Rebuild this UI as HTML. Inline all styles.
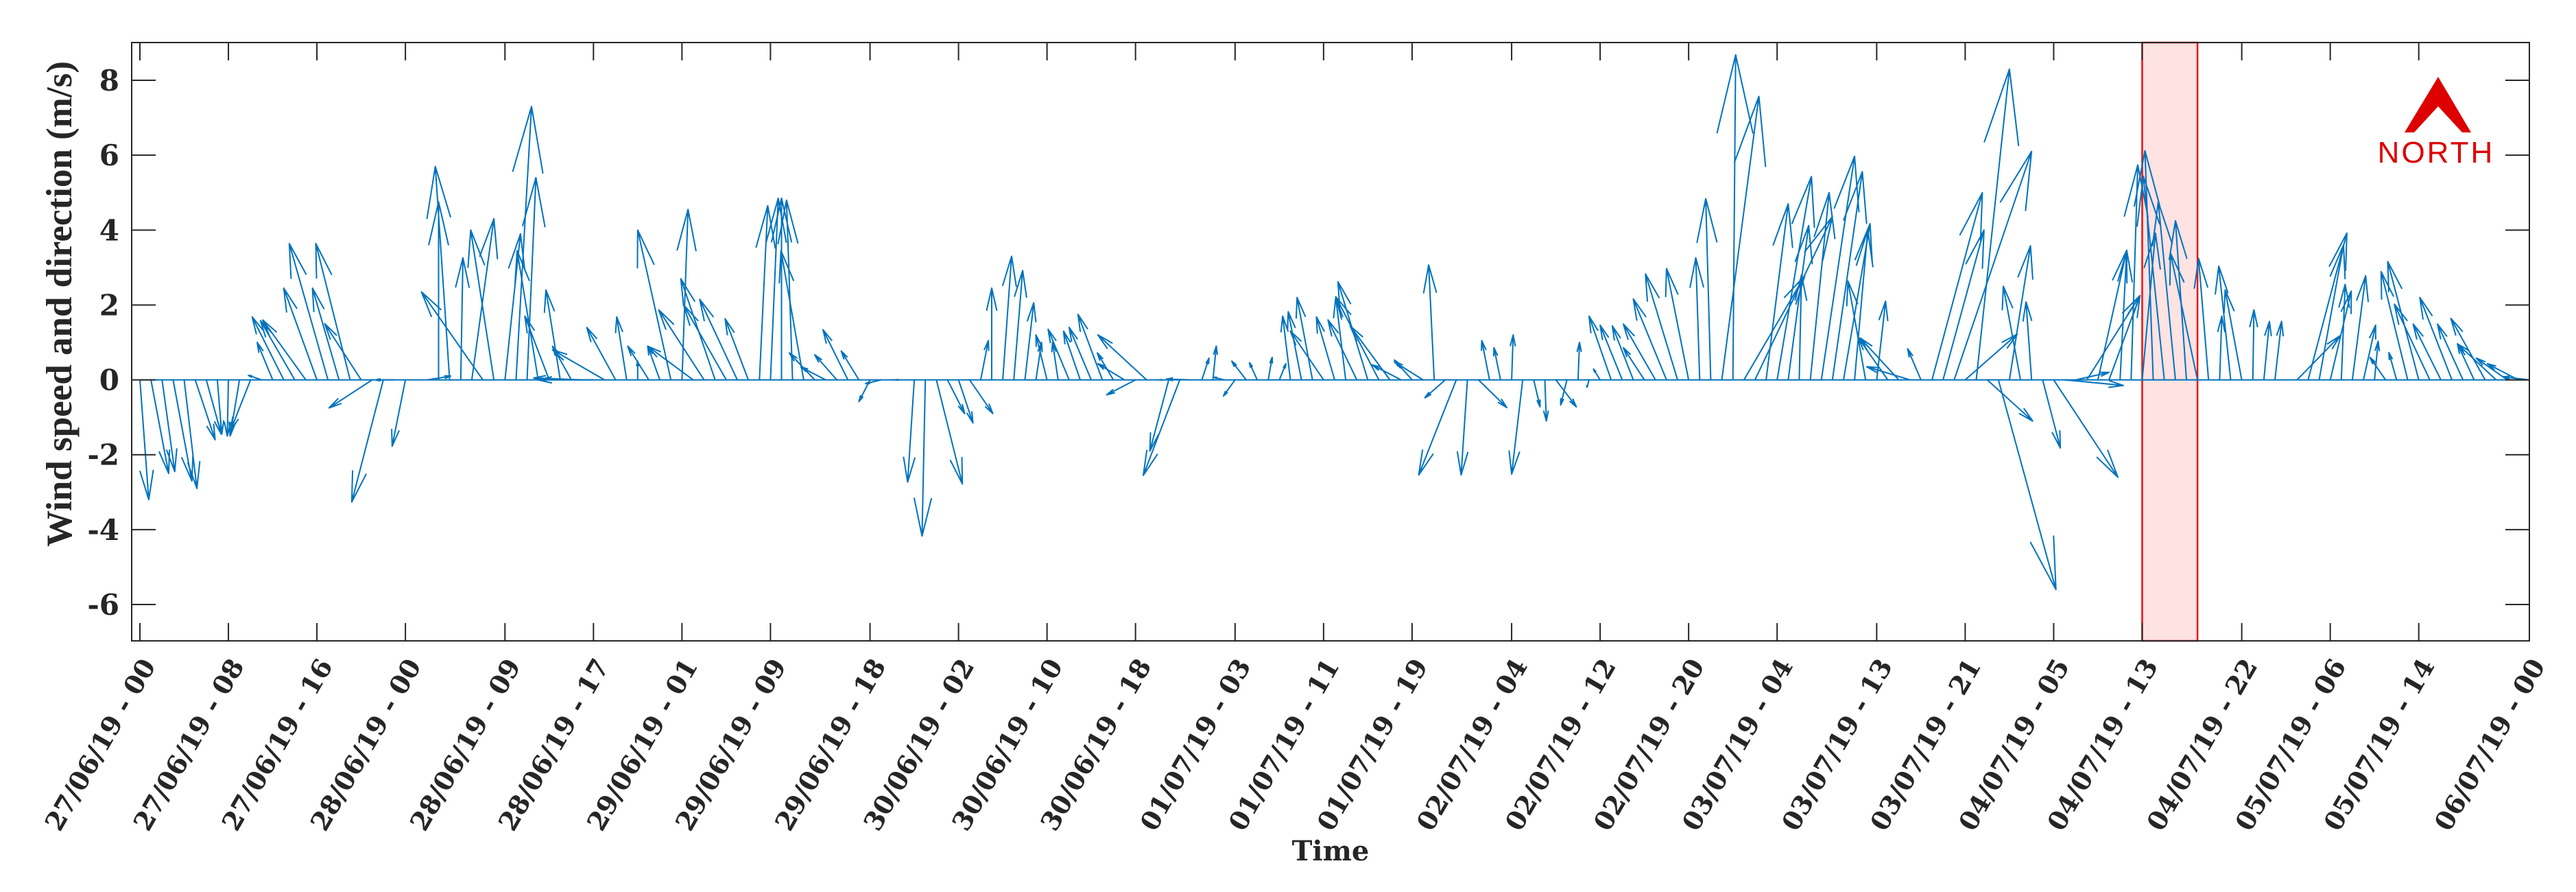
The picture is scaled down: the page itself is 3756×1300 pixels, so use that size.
<!DOCTYPE html>
<html><head><meta charset="utf-8"><style>
html,body{margin:0;padding:0;background:#fff;}
svg{display:block;}
</style></head><body>
<svg id="chart" width="3756" height="1300" viewBox="0 0 3756 1300" xmlns="http://www.w3.org/2000/svg">
<rect x="0" y="0" width="3756" height="1300" fill="#fff"/>
<g id="plot"></g>
</svg>
<script>
const tickHours = [0,8,16,24,33,41,49,57,66,74,82,90,99,107,115,124,132,140,148,157,165,173,181,190,198,206,216];
const tickLabels = ["27/06/19 - 00","27/06/19 - 08","27/06/19 - 16","28/06/19 - 00","28/06/19 - 09","28/06/19 - 17","29/06/19 - 01","29/06/19 - 09","29/06/19 - 18","30/06/19 - 02","30/06/19 - 10","30/06/19 - 18","01/07/19 - 03","01/07/19 - 11","01/07/19 - 19","02/07/19 - 04","02/07/19 - 12","02/07/19 - 20","03/07/19 - 04","03/07/19 - 13","03/07/19 - 21","04/07/19 - 05","04/07/19 - 13","04/07/19 - 22","05/07/19 - 06","05/07/19 - 14","06/07/19 - 00"];
const yTicks = [-6,-4,-2,0,2,4,6,8];
const highlightStart = 181;
const highlightEnd = 186;
// eastward component (in hours of axis) and northward component (m/s), one per hour
const windU = [0.8,1.6,1.15,1.7,1.15,1.8,1.35,0.4,-0.1,-0.85,-1.8,-1.2,-1.4,-2.85,-3.1,-3.9,-3.0,-3.5,-2.4,-3.1,-3.3,-3.9,-2.85,-1.7,-1.2,0,2.1,0,-1.3,0.2,2.0,-5.55,-2.1,1.4,1.4,0.8,-1.9,-2.2,-1.3,-1.7,-4.4,-5,-4.7,-2.6,
-0.9,0,-1.9,-1.1,-3.0,0.55,-4.1,-4.1,-3.1,-3.85,-3.4,-2.1,0.75,0.7,0,-0.55,-2.05,-2.3,-2.25,-2.0,-2.25,-1.6,-1.0,-1.4,0.6,0,-0.6,-0.3,2.35,1.55,1.3,2.1,0.7,0,0.8,0.8,0.8,0.5,-1.0,-0.5,-1.9,-1.5,-2.0,-2.2,
-1.45,-2.4,-2.6,-4.4,0.4,-1.7,-3.3,-2.2,0.65,0.3,-0.9,-1.05,-1.3,-0.7,0.35,0.6,-0.7,-1.2,-1.4,-3.0,-1.65,-0.9,-2.6,-2.7,-3.9,-3.6,-2.6,-1.6,-2.6,-0.5,-1.85,-3.4,-0.57,2.56,-0.7,-0.6,0.14,-1.0,0.57,0.14,1.85,-0.57,0.14,
-0.2,-0.6,-2.0,-2.0,-1.9,-1.9,-2.9,-3.0,-2.9,-2.0,-0.35,-0.45,3.35,0.25,5.5,7.0,2.0,3.1,1.85,0.2,1.7,3.0,2.7,2.4,1.2,-1.6,0.8,-2.65,-3.5,-3.9,-1.2,4.55,3.7,7.0,4.7,3.0,4.1,5.2,1.9,-1.55,-0.5,1.6,5.8,
5.3,3.0,4.8,2.6,2.8,0.6,0.6,1.2,-0.75,-1.9,-1.55,-1.0,-2.45,-0.9,0.2,-1.08,-1.5,0.1,0.5,0.6,0,3.9,3.5,2.2,1.9,0.35,1.2,1.1,0.33,-1.4,-0.7,-2.4,-2.8,-3.2,-2.5,-2.9,-2.3,-1.5,-3.1,-3.5,-2.8,-2.8,-2.4];
const windV = [-3.2,-2.5,-2.45,-2.7,-2.9,-1.6,-1.45,-1.45,-1.5,-1.5,-1.35,0.12,1.0,1.68,1.58,1.6,2.45,3.64,2.45,3.64,1.5,-0.75,-3.26,0,-1.77,0,0.1,4.75,5.7,3.26,4.3,2.35,4.0,3.9,7.3,5.4,3.45,1.7,2.4,0.9,0.05,0,0.8,1.4,
1.68,0.5,0.9,0.9,4.0,4.55,0.9,1.87,2.7,2.0,2.15,1.63,4.65,4.85,4.85,4.8,3.45,0.72,0.34,0.67,1.34,0.77,-0.58,-0.1,0,0,-2.73,-4.17,-2.78,-0.9,-1.15,-0.9,1.05,2.45,3.3,2.92,2.06,1.0,1.2,1.0,1.35,1.3,1.4,1.75,
0.72,0.43,-0.4,1.2,0,-1.9,-2.55,0.02,0.58,0.9,0.07,-0.43,0.5,0.46,0.6,0.43,1.7,1.82,2.2,1.3,1.68,2.2,1.6,2.62,2.22,1.44,0.4,0.53,0.48,3.07,-0.48,-2.54,-2.54,-0.74,1.05,0.86,1.2,-2.52,-0.72,-1.1,-0.72,-0.67,1.0,
-0.2,0.29,1.7,1.46,1.44,0.86,1.49,2.16,2.83,2.97,3.26,4.84,7.57,8.68,2.78,4.36,4.7,5.43,4.12,2.8,5.0,5.97,5.56,4.17,4.0,2.64,2.1,1.12,1.12,0.35,0.83,5.0,4.0,6.1,1.22,8.3,-1.1,-5.6,3.58,2.5,2.08,-1.82,-2.6,
-0.15,0.2,2.25,3.46,2.25,3.46,5.74,3.92,6.12,5.44,4.75,4.25,3.39,3.24,1.7,3.04,2.4,1.87,1.56,1.56,0,1.18,3.92,3.6,2.37,2.55,2.78,1.46,1.03,0.6,0.73,2.89,3.16,2.02,1.49,2.2,1.49,0.96,1.64,0.96,0.58,0.43,0.08];

const NS = "http://www.w3.org/2000/svg";
const L = 192, R = 3688, T = 62, B = 934;
const X0 = 204, PXH = (3688 - 204) / 216;
const Y0 = 553.6, PXV = 54.57;
const xs = h => X0 + h * PXH;
const ys = v => Y0 - v * PXV;
const plot = document.getElementById('plot');
function mk(tag, attrs, parent) {
  const e = document.createElementNS(NS, tag);
  for (const k in attrs) e.setAttribute(k, attrs[k]);
  (parent || plot).appendChild(e);
  return e;
}

const hb = mk('rect', {x: xs(highlightStart), y: T, width: xs(highlightEnd) - xs(highlightStart), height: B - T, fill: '#ffe2e2', stroke: '#ee1111', 'stroke-width': 2.5});



const zl = mk('line', {x1: xs(0), y1: ys(0), x2: xs(216), y2: ys(0), stroke: '#0072BD', 'stroke-width': 2});



const ag = mk('g', {stroke: '#0072BD', 'stroke-width': 2, fill: 'none', 'stroke-linecap': 'round'});


for (let i = 0; i < windU.length; i++) {
  const x1 = xs(i), y1 = ys(0);
  const x2 = xs(i + windU[i]), y2 = ys(windV[i]);
  const dx = x2 - x1, dy = y2 - y1;
  const len = Math.hypot(dx, dy);
  if (len < 1) continue;
  const ux = dx / len, uy = dy / len;
  const hl = 0.24 * len, hw = 0.055 * len;
  const bx = x2 - ux * hl, by = y2 - uy * hl;
  const p = mk('path', {d: `M${x1.toFixed(1)},${y1.toFixed(1)}L${x2.toFixed(1)},${y2.toFixed(1)}M${(bx - uy*hw).toFixed(1)},${(by + ux*hw).toFixed(1)}L${x2.toFixed(1)},${y2.toFixed(1)}L${(bx + uy*hw).toFixed(1)},${(by - ux*hw).toFixed(1)}`}, ag);
  
  
}

const box = mk('rect', {x: L, y: T, width: R - L, height: B - T, fill: 'none', stroke: '#262626', 'stroke-width': 2});



for (let i = 0; i < yTicks.length; i++) {
  const y = ys(yTicks[i]);
  const t1 = mk('line', {x1: L, y1: y, x2: L + 35, y2: y, stroke: '#262626', 'stroke-width': 2});
  
  
  const t2 = mk('line', {x1: R, y1: y, x2: R - 35, y2: y, stroke: '#262626', 'stroke-width': 2});
  
  
  const tx = mk('text', {x: 174, y: y + 15, 'text-anchor': 'end', 'font-family': '"DejaVu Serif", serif', 'font-weight': 'bold', 'font-size': 42, fill: '#262626'});
  tx.textContent = yTicks[i];
  
  
}

for (let i = 0; i < tickHours.length; i++) {
  const x = xs(tickHours[i]);
  const t1 = mk('line', {x1: x, y1: B, x2: x, y2: B - 26, stroke: '#262626', 'stroke-width': 2});
  
  
  const t2 = mk('line', {x1: x, y1: T, x2: x, y2: T + 26, stroke: '#262626', 'stroke-width': 2});
  
  
  const ax = x + 24, ay = 970;
  const tx = mk('text', {x: ax, y: ay, 'text-anchor': 'end', transform: `rotate(-60 ${ax} ${ay})`, 'font-family': '"DejaVu Serif", serif', 'font-weight': 'bold', 'font-size': 38, fill: '#262626'});
  tx.textContent = tickLabels[i];
  
  
}

const yt = mk('text', {x: 0, y: 0, transform: 'translate(104 443) rotate(-90)', 'text-anchor': 'middle', 'font-family': '"Liberation Serif", serif', 'font-weight': 'bold', 'font-size': 53, fill: '#262626'});
yt.textContent = 'Wind speed and direction (m/s)';


const xt = mk('text', {x: 1940, y: 1254, 'text-anchor': 'middle', 'font-family': '"DejaVu Serif", serif', 'font-weight': 'bold', 'font-size': 40, fill: '#262626'});
xt.textContent = 'Time';



const ng = mk('g', {});


const tri = mk('path', {d: 'M3555,112 L3603,193 L3590,193 L3555,155 L3520,193 L3506,193 Z', fill: '#dd0000'}, ng);


const nt = mk('text', {x: 3552, y: 237, 'text-anchor': 'middle', 'font-family': '"Liberation Sans", sans-serif', 'font-size': 44, 'letter-spacing': 3, fill: '#dd0000'}, ng);
nt.textContent = 'NORTH';


</script>
</body></html>
